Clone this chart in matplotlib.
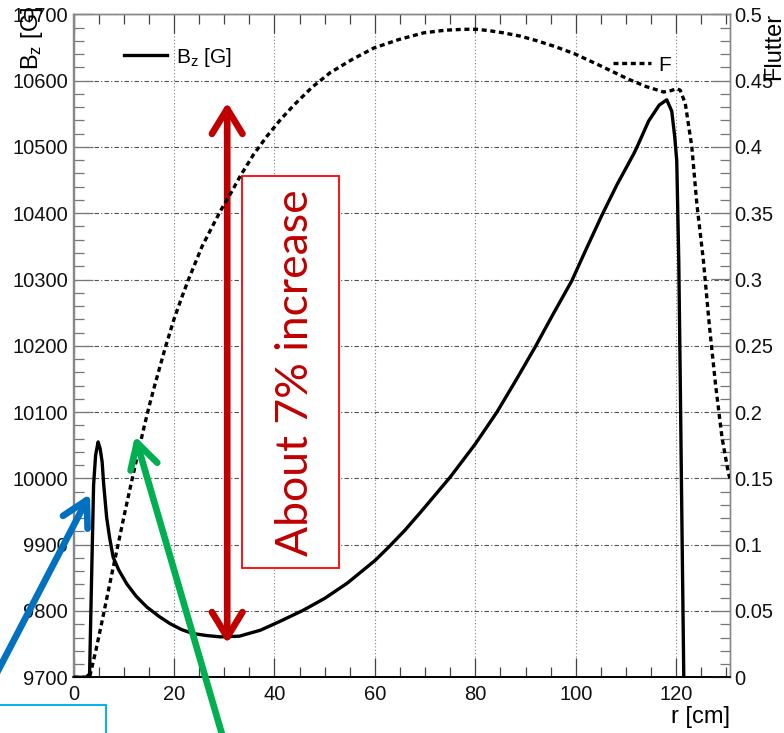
import matplotlib
matplotlib.use("Agg")
import matplotlib.pyplot as plt
from matplotlib.ticker import MultipleLocator
from matplotlib.patches import Rectangle, FancyArrowPatch
from matplotlib.lines import Line2D

plt.rcParams['font.family'] = ['Liberation Sans', 'DejaVu Sans']
plt.rcParams['mathtext.fontset'] = 'custom'
plt.rcParams['mathtext.rm'] = 'Liberation Sans'
plt.rcParams['mathtext.it'] = 'Liberation Sans:italic'

# ---------------- data ----------------
r_bz = [0, 2.5, 3.2, 3.6, 4.0, 4.4, 4.9, 5.3, 5.7, 6.0, 6.6, 7.2, 7.9, 9.0, 10.6, 12.5,
        14.6, 17.0, 19.2, 21.5, 23.8, 26.5, 29.2, 33.0, 37.2, 41.0, 45.7, 50.0, 54.5,
        60.0, 62.7, 66.0, 69.1, 72.0, 75.0, 80.0, 84.3, 88.0, 91.9, 95.5, 99.2, 102.2,
        105.2, 108.2, 111.5, 112.2, 114.5, 116.6, 118.1, 119.1, 119.7, 120.1, 120.5,
        120.8, 121.1, 121.5]
bz = [9700, 9700, 9705, 9850, 9990, 10035, 10055, 10045, 10025, 9992, 9941, 9910, 9881,
      9862, 9841, 9822, 9806, 9792, 9781, 9772, 9766, 9763, 9761, 9762, 9771, 9784, 9801,
      9819, 9842, 9876, 9896, 9922, 9949, 9975, 10002, 10052, 10100, 10147, 10198, 10248,
      10298, 10348, 10397, 10443, 10489, 10500, 10539, 10563, 10571, 10554, 10515, 10479,
      10328, 10147, 9950, 9700]

r_f = [0, 3.2, 4.5, 6.0, 7.3, 8.7, 10.2, 11.7, 12.9, 14.0, 15.1, 16.3, 18.3, 20.0, 21.5,
       23.0, 25.6, 27.5, 29.3, 31.3, 33.2, 35.8, 38.5, 41.3, 44.0, 47.5, 51.1, 55.5, 59.8,
       64.8, 69.7, 74.0, 77.7, 80.3, 83.0, 85.6, 89.0, 92.3, 96.0, 99.9, 105.0, 110.5,
       114.0, 117.5, 119.0, 120.1, 120.8, 121.8, 123.1, 124.1, 125.4, 126.6, 127.8, 129.1,
       130.4, 130.7]
flutter = [0, 0, 0.021, 0.048, 0.072, 0.097, 0.124, 0.150, 0.170, 0.188, 0.205, 0.222,
           0.249, 0.270, 0.286, 0.301, 0.325, 0.339, 0.352, 0.365, 0.378, 0.394, 0.408,
           0.421, 0.432, 0.445, 0.456, 0.466, 0.4746, 0.481, 0.486, 0.488, 0.4887, 0.4887,
           0.4875, 0.486, 0.4835, 0.480, 0.4755, 0.470, 0.461, 0.451, 0.4455, 0.4414,
           0.4425, 0.4440, 0.4427, 0.4327, 0.400, 0.357, 0.3145, 0.265, 0.2215, 0.181,
           0.1536, 0.150]

x_ticks = [0, 20, 40, 60, 80, 100, 120]
bz_ticks = [9700, 9800, 9900, 10000, 10100, 10200, 10300, 10400, 10500, 10600, 10700]
f_ticks = [0, 0.05, 0.1, 0.15, 0.2, 0.25, 0.3, 0.35, 0.4, 0.45, 0.5]
f_tick_labels = ['0', '0.05', '0.1', '0.15', '0.2', '0.25', '0.3', '0.35', '0.4', '0.45', '0.5']

annotation_text = 'About 7% increase'
arrow_r = 30.6

# ---------------- layout helpers ----------------
W, H = 784, 733
def fx(px):
    return px / W
def fy(py):
    return 1 - py / H

fig = plt.figure(figsize=(W / 100, H / 100), dpi=100)
ax = fig.add_axes([fx(73.5), fy(677.3), (730 - 73.5) / W, (677.3 - 14.3) / H])
ax2 = ax.twinx()

# curves
ax.plot(r_bz, bz, color='black', lw=2.4, solid_joinstyle='round', zorder=3)
ax2.plot(r_f, flutter, color='black', lw=2.4, linestyle=(0, (1.5, 1.1)), zorder=3)

ax.set_xlim(0, 130.7)
ax.set_ylim(9700, 10700)
ax2.set_ylim(0, 0.5)

# grid
ax.set_axisbelow(True)
ax.xaxis.grid(True, which='major', color='#808080', lw=0.8, linestyle=(0, (1, 2)))
ax.yaxis.grid(True, which='major', color='#505050', lw=0.8, linestyle=(0, (4, 2, 1, 2)))

# ticks
ax.set_xticks(x_ticks)
ax.xaxis.set_minor_locator(MultipleLocator(5))
ax.set_yticks(bz_ticks)
ax.yaxis.set_minor_locator(MultipleLocator(20))
ax2.set_yticks(f_ticks)
ax2.set_yticklabels(f_tick_labels)
ax2.yaxis.set_minor_locator(MultipleLocator(0.01))

ax.tick_params(axis='x', which='both', direction='in', top=True, bottom=True,
               labelsize=14.5, pad=5.5, color='#444', labelcolor='#111')
ax.tick_params(axis='x', which='major', length=13.5, width=0.9)
ax.tick_params(axis='x', which='minor', length=7, width=0.9)
ax.tick_params(axis='y', which='both', direction='in', left=True, right=False,
               labelsize=14.5, pad=4, color='#777', labelcolor='#111')
ax.tick_params(axis='y', which='major', length=13.5, width=0.9)
ax.tick_params(axis='y', which='minor', length=7, width=0.9)
ax2.tick_params(axis='y', which='both', direction='in', right=True,
                labelsize=14.5, pad=3, color='#777', labelcolor='#111')
ax2.tick_params(axis='y', which='major', length=13.5, width=0.9)
ax2.tick_params(axis='y', which='minor', length=7, width=0.9)

for a in (ax, ax2):
    for s in ('left', 'top', 'right'):
        a.spines[s].set_color('#888')
        a.spines[s].set_linewidth(1.0)
    a.spines['bottom'].set_color('black')
    a.spines['bottom'].set_linewidth(1.2)

# axis titles
fig.text(fx(32), fy(7), 'B$_{\\mathrm{z}}$ [G]', rotation=90, ha='center', va='top', fontsize=17)
fig.text(fx(774.5), fy(13), 'Flutter', rotation=90, ha='center', va='top', fontsize=17)
fig.text(fx(730), fy(717), 'r [cm]', ha='right', va='center', fontsize=17)

# legend (manual)
fig.add_artist(Line2D([fx(124), fx(167)], [fy(55), fy(55)], color='black', lw=2.4))
fig.text(fx(176), fy(63), 'B$_{\\mathrm{z}}$ [G]', ha='left', va='baseline', fontsize=15)
fig.add_artist(Line2D([fx(613), fx(651)], [fy(63), fy(63)], color='black', lw=2.4,
                      linestyle=(0, (1.5, 1.1))))
fig.text(fx(658), fy(71), 'F', ha='left', va='baseline', fontsize=15)

# red box + text
ax.add_patch(Rectangle((fx(242), fy(567.5)), fx(339) - fx(242), (567.5 - 176) / H,
                       transform=fig.transFigure, facecolor='white', edgecolor='#FF0000',
                       lw=1.3, zorder=2, clip_on=False))
ax.text(fx(295), fy(373), annotation_text, transform=fig.transFigure, rotation=90,
        ha='center', va='center', fontsize=32, family=['Lato', 'DejaVu Sans'],
        color='#C00000', zorder=4)

# red double arrow between the valley minimum and the maximum of Bz
valley_min = min(b for r, b in zip(r_bz, bz) if 15 < r < 60)
ax.annotate('', xy=(arrow_r, valley_min - 10), xytext=(arrow_r, max(bz) - 4),
            arrowprops=dict(arrowstyle='<->,head_length=0.9,head_width=0.55',
                            color='#C00000', lw=4.8, shrinkA=0, shrinkB=0,
                            mutation_scale=20), zorder=5, annotation_clip=False)

# blue and green arrows (figure level)
blue = FancyArrowPatch((fx(-12), fy(690)), (fx(90), fy(494)),
                       arrowstyle='->,head_length=0.9,head_width=0.5',
                       mutation_scale=20, lw=4.8, color='#0070C0',
                       transform=fig.transFigure, shrinkA=0, shrinkB=0)
fig.add_artist(blue)
green = FancyArrowPatch((fx(226), fy(748)), (fx(135), fy(436)),
                        arrowstyle='->,head_length=0.9,head_width=0.5',
                        mutation_scale=20, lw=4.8, color='#00B050',
                        transform=fig.transFigure, shrinkA=0, shrinkB=0)
fig.add_artist(green)

# cyan box at bottom-left
fig.add_artist(Rectangle((fx(-5), fy(745)), 111 / W, 40 / H, transform=fig.transFigure,
                         facecolor='none', edgecolor='#00B0F0', lw=1.4))

fig.savefig('out.png', dpi=100)
